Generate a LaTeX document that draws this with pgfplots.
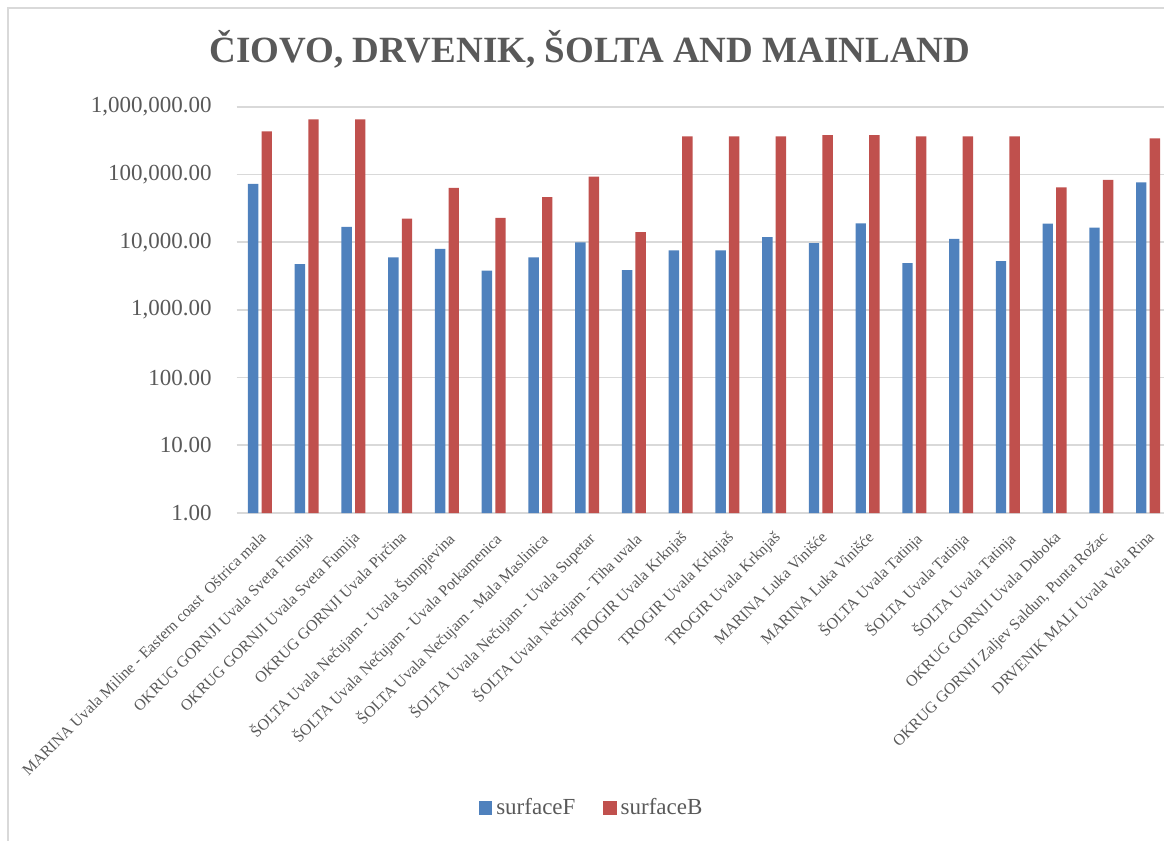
\documentclass[border=0pt]{standalone}
\usepackage{pgfplots}
\pgfplotsset{compat=1.18}
\usepackage{fontspec}
\setmainfont{Liberation Serif}
\definecolor{txt}{HTML}{595959}
\definecolor{gridc}{HTML}{D9D9D9}
\definecolor{cblue}{HTML}{4F81BD}
\definecolor{cred}{HTML}{C0504D}
\begin{document}
\begin{tikzpicture}
\draw[gridc, line width=0.8pt] (4pt,-425pt) -- (4pt,-4pt) -- (590pt,-4pt);
\node[txt, font=\fontsize{18.5}{22}\selectfont\bfseries] at (295pt,-24.5pt) {ČIOVO, DRVENIK, ŠOLTA AND MAINLAND};
\begin{axis}[
  scale only axis, width=467.4pt, height=203.15pt,
  at={(118.3pt,-256.5pt)}, anchor=south west,
  ybar=1.6pt, bar width=5.2pt,
  ymode=log, ymin=1, ymax=1000000,
  xmin=-0.5, xmax=19.5,
  axis line style={draw=none},
  major tick length=0pt, minor tick length=0pt, yminorticks=false,
  ymajorgrids, grid style={gridc, line width=0.8pt},
  ytick={1,10,100,1000,10000,100000,1000000},
  yticklabels={1.00,10.00,100.00,{1,000.00},{10,000.00},{100,000.00},{1,000,000.00}},
  yticklabel style={font=\fontsize{11.5}{13}\selectfont, text=txt, inner sep=0pt, xshift=-12.3pt},
  xtick=data,
  xticklabels={{MARINA Uvala Miline - Eastern coast\ \ Oštrica mala},
    OKRUG GORNJI Uvala Sveta Fumija, OKRUG GORNJI Uvala Sveta Fumija,
    OKRUG GORNJI Uvala Pirčina,
    ŠOLTA Uvala Nečujam - Uvala Šumpjevina,
    ŠOLTA Uvala Nečujam - Uvala Potkamenica,
    ŠOLTA Uvala Nečujam - Mala Maslinica,
    ŠOLTA Uvala Nečujam - Uvala Supetar,
    ŠOLTA Uvala Nečujam - Tiha uvala,
    TROGIR Uvala Krknjaš, TROGIR Uvala Krknjaš, TROGIR Uvala Krknjaš,
    MARINA Luka Vinišće, MARINA Luka Vinišće,
    ŠOLTA Uvala Tatinja, ŠOLTA Uvala Tatinja, ŠOLTA Uvala Tatinja,
    OKRUG GORNJI Uvala Duboka,
    {OKRUG GORNJI Zaljev Saldun, Punta Rožac},
    DRVENIK MALI Uvala Vela Rina},
  xticklabel style={font=\fontsize{7.9}{9}\selectfont, text=txt, rotate=45, anchor=north east, inner sep=0pt, xshift=-6.3pt, yshift=-5.7pt},
  legend columns=2,
  legend style={at={(0.381,-0.726)}, anchor=center, draw=none, fill=none,
    font=\fontsize{11.5}{13}\selectfont, text=txt,
    /tikz/every even column/.append style={column sep=12pt}},
  legend image code/.code={\fill[#1] (0pt,-3.3pt) rectangle (6.6pt,3.3pt);},
]
\addplot[fill=cblue, draw=none] coordinates {
(0,72400) (1,4720) (2,16800) (3,5940) (4,7980) (5,3800) (6,5940) (7,9930) (8,3850) (9,7550)
(10,7550) (11,11900) (12,9700) (13,19000) (14,4890) (15,11200) (16,5240) (17,18800) (18,16400) (19,76500)};
\addplot[fill=cred, draw=none] coordinates {
(0,434000) (1,649000) (2,649000) (3,22300) (4,63200) (5,22800) (6,46400) (7,93000) (8,14100) (9,366000)
(10,366000) (11,366000) (12,379000) (13,379000) (14,366000) (15,366000) (16,366000) (17,64500) (18,83100) (19,342000)};
\legend{surfaceF, surfaceB}
\end{axis}
\pgfresetboundingbox
\path[use as bounding box] (0,0) rectangle (582pt,-420.5pt);
\end{tikzpicture}
\end{document}
